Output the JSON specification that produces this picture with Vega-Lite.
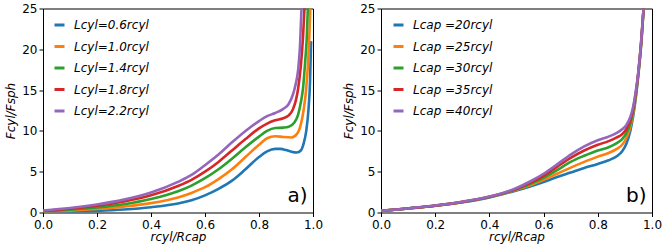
{
  "$schema": "https://vega.github.io/schema/vega-lite/v6.json",
  "background": "white",
  "padding": {"left": 4, "top": 1.5, "right": 12, "bottom": 2},
  "spacing": 18,
  "datasets": {
    "a": [
      {"s":"Lcyl=0.6rcyl","x":0,"F":0.05},{"s":"Lcyl=0.6rcyl","x":0.1,"F":0.1},{"s":"Lcyl=0.6rcyl","x":0.2,"F":0.2},{"s":"Lcyl=0.6rcyl","x":0.3,"F":0.37},{"s":"Lcyl=0.6rcyl","x":0.4,"F":0.65},{"s":"Lcyl=0.6rcyl","x":0.5,"F":1.1},{"s":"Lcyl=0.6rcyl","x":0.55,"F":1.5},{"s":"Lcyl=0.6rcyl","x":0.6,"F":2.1},{"s":"Lcyl=0.6rcyl","x":0.65,"F":2.9},{"s":"Lcyl=0.6rcyl","x":0.7,"F":3.9},{"s":"Lcyl=0.6rcyl","x":0.75,"F":5.3},{"s":"Lcyl=0.6rcyl","x":0.8,"F":6.8},{"s":"Lcyl=0.6rcyl","x":0.83,"F":7.5},{"s":"Lcyl=0.6rcyl","x":0.86,"F":7.8},{"s":"Lcyl=0.6rcyl","x":0.88,"F":7.8},{"s":"Lcyl=0.6rcyl","x":0.9,"F":7.65},{"s":"Lcyl=0.6rcyl","x":0.92,"F":7.45},{"s":"Lcyl=0.6rcyl","x":0.94,"F":7.35},{"s":"Lcyl=0.6rcyl","x":0.955,"F":7.6},{"s":"Lcyl=0.6rcyl","x":0.965,"F":8.4},{"s":"Lcyl=0.6rcyl","x":0.975,"F":10},{"s":"Lcyl=0.6rcyl","x":0.983,"F":12.5},{"s":"Lcyl=0.6rcyl","x":0.989,"F":16},{"s":"Lcyl=0.6rcyl","x":0.993,"F":21},
      {"s":"Lcyl=1.0rcyl","x":0,"F":0.1},{"s":"Lcyl=1.0rcyl","x":0.1,"F":0.22},{"s":"Lcyl=1.0rcyl","x":0.2,"F":0.42},{"s":"Lcyl=1.0rcyl","x":0.3,"F":0.72},{"s":"Lcyl=1.0rcyl","x":0.4,"F":1.15},{"s":"Lcyl=1.0rcyl","x":0.5,"F":1.85},{"s":"Lcyl=1.0rcyl","x":0.55,"F":2.4},{"s":"Lcyl=1.0rcyl","x":0.6,"F":3.1},{"s":"Lcyl=1.0rcyl","x":0.65,"F":4.1},{"s":"Lcyl=1.0rcyl","x":0.7,"F":5.3},{"s":"Lcyl=1.0rcyl","x":0.75,"F":6.8},{"s":"Lcyl=1.0rcyl","x":0.8,"F":8.3},{"s":"Lcyl=1.0rcyl","x":0.83,"F":9.1},{"s":"Lcyl=1.0rcyl","x":0.86,"F":9.35},{"s":"Lcyl=1.0rcyl","x":0.89,"F":9.25},{"s":"Lcyl=1.0rcyl","x":0.92,"F":9.2},{"s":"Lcyl=1.0rcyl","x":0.94,"F":9.6},{"s":"Lcyl=1.0rcyl","x":0.955,"F":10.8},{"s":"Lcyl=1.0rcyl","x":0.965,"F":12.5},{"s":"Lcyl=1.0rcyl","x":0.975,"F":15.2},{"s":"Lcyl=1.0rcyl","x":0.982,"F":18.5},{"s":"Lcyl=1.0rcyl","x":0.987,"F":22},{"s":"Lcyl=1.0rcyl","x":0.991,"F":26},
      {"s":"Lcyl=1.4rcyl","x":0,"F":0.15},{"s":"Lcyl=1.4rcyl","x":0.1,"F":0.35},{"s":"Lcyl=1.4rcyl","x":0.2,"F":0.62},{"s":"Lcyl=1.4rcyl","x":0.3,"F":1.02},{"s":"Lcyl=1.4rcyl","x":0.4,"F":1.65},{"s":"Lcyl=1.4rcyl","x":0.5,"F":2.6},{"s":"Lcyl=1.4rcyl","x":0.55,"F":3.3},{"s":"Lcyl=1.4rcyl","x":0.6,"F":4.2},{"s":"Lcyl=1.4rcyl","x":0.65,"F":5.3},{"s":"Lcyl=1.4rcyl","x":0.7,"F":6.6},{"s":"Lcyl=1.4rcyl","x":0.75,"F":8.0},{"s":"Lcyl=1.4rcyl","x":0.8,"F":9.3},{"s":"Lcyl=1.4rcyl","x":0.83,"F":10.0},{"s":"Lcyl=1.4rcyl","x":0.86,"F":10.35},{"s":"Lcyl=1.4rcyl","x":0.89,"F":10.4},{"s":"Lcyl=1.4rcyl","x":0.91,"F":10.5},{"s":"Lcyl=1.4rcyl","x":0.93,"F":11.0},{"s":"Lcyl=1.4rcyl","x":0.945,"F":12.0},{"s":"Lcyl=1.4rcyl","x":0.955,"F":13.5},{"s":"Lcyl=1.4rcyl","x":0.963,"F":15.2},{"s":"Lcyl=1.4rcyl","x":0.971,"F":18.5},{"s":"Lcyl=1.4rcyl","x":0.977,"F":21.5},{"s":"Lcyl=1.4rcyl","x":0.982,"F":26},
      {"s":"Lcyl=1.8rcyl","x":0,"F":0.2},{"s":"Lcyl=1.8rcyl","x":0.1,"F":0.45},{"s":"Lcyl=1.8rcyl","x":0.2,"F":0.82},{"s":"Lcyl=1.8rcyl","x":0.3,"F":1.35},{"s":"Lcyl=1.8rcyl","x":0.4,"F":2.1},{"s":"Lcyl=1.8rcyl","x":0.5,"F":3.25},{"s":"Lcyl=1.8rcyl","x":0.55,"F":4.0},{"s":"Lcyl=1.8rcyl","x":0.6,"F":5.0},{"s":"Lcyl=1.8rcyl","x":0.65,"F":6.2},{"s":"Lcyl=1.8rcyl","x":0.7,"F":7.6},{"s":"Lcyl=1.8rcyl","x":0.75,"F":9.0},{"s":"Lcyl=1.8rcyl","x":0.8,"F":10.3},{"s":"Lcyl=1.8rcyl","x":0.83,"F":10.9},{"s":"Lcyl=1.8rcyl","x":0.86,"F":11.3},{"s":"Lcyl=1.8rcyl","x":0.89,"F":11.55},{"s":"Lcyl=1.8rcyl","x":0.91,"F":11.9},{"s":"Lcyl=1.8rcyl","x":0.925,"F":12.6},{"s":"Lcyl=1.8rcyl","x":0.937,"F":13.8},{"s":"Lcyl=1.8rcyl","x":0.945,"F":15.2},{"s":"Lcyl=1.8rcyl","x":0.955,"F":18},{"s":"Lcyl=1.8rcyl","x":0.963,"F":21.5},{"s":"Lcyl=1.8rcyl","x":0.97,"F":26},
      {"s":"Lcyl=2.2rcyl","x":0,"F":0.25},{"s":"Lcyl=2.2rcyl","x":0.1,"F":0.55},{"s":"Lcyl=2.2rcyl","x":0.2,"F":0.98},{"s":"Lcyl=2.2rcyl","x":0.3,"F":1.58},{"s":"Lcyl=2.2rcyl","x":0.4,"F":2.45},{"s":"Lcyl=2.2rcyl","x":0.5,"F":3.75},{"s":"Lcyl=2.2rcyl","x":0.55,"F":4.6},{"s":"Lcyl=2.2rcyl","x":0.6,"F":5.8},{"s":"Lcyl=2.2rcyl","x":0.65,"F":7.1},{"s":"Lcyl=2.2rcyl","x":0.7,"F":8.6},{"s":"Lcyl=2.2rcyl","x":0.75,"F":10.0},{"s":"Lcyl=2.2rcyl","x":0.8,"F":11.2},{"s":"Lcyl=2.2rcyl","x":0.83,"F":11.8},{"s":"Lcyl=2.2rcyl","x":0.86,"F":12.2},{"s":"Lcyl=2.2rcyl","x":0.89,"F":12.7},{"s":"Lcyl=2.2rcyl","x":0.91,"F":13.3},{"s":"Lcyl=2.2rcyl","x":0.925,"F":14.4},{"s":"Lcyl=2.2rcyl","x":0.935,"F":15.6},{"s":"Lcyl=2.2rcyl","x":0.945,"F":17.5},{"s":"Lcyl=2.2rcyl","x":0.952,"F":20.5},{"s":"Lcyl=2.2rcyl","x":0.958,"F":25.5}
    ],
    "b": [
      {"s":"Lcap =20rcyl","x":0,"F":0.2},{"s":"Lcap =20rcyl","x":0.1,"F":0.5},{"s":"Lcap =20rcyl","x":0.2,"F":0.82},{"s":"Lcap =20rcyl","x":0.3,"F":1.25},{"s":"Lcap =20rcyl","x":0.4,"F":1.85},{"s":"Lcap =20rcyl","x":0.5,"F":2.7},{"s":"Lcap =20rcyl","x":0.55,"F":3.2},{"s":"Lcap =20rcyl","x":0.6,"F":3.75},{"s":"Lcap =20rcyl","x":0.65,"F":4.35},{"s":"Lcap =20rcyl","x":0.7,"F":4.9},{"s":"Lcap =20rcyl","x":0.75,"F":5.45},{"s":"Lcap =20rcyl","x":0.8,"F":5.95},{"s":"Lcap =20rcyl","x":0.84,"F":6.4},{"s":"Lcap =20rcyl","x":0.87,"F":6.9},{"s":"Lcap =20rcyl","x":0.89,"F":7.5},{"s":"Lcap =20rcyl","x":0.905,"F":8.4},{"s":"Lcap =20rcyl","x":0.92,"F":10.0},{"s":"Lcap =20rcyl","x":0.93,"F":11.7},{"s":"Lcap =20rcyl","x":0.94,"F":14.0},{"s":"Lcap =20rcyl","x":0.95,"F":17.0},{"s":"Lcap =20rcyl","x":0.96,"F":20.5},{"s":"Lcap =20rcyl","x":0.97,"F":25.5},
      {"s":"Lcap =25rcyl","x":0,"F":0.2},{"s":"Lcap =25rcyl","x":0.1,"F":0.5},{"s":"Lcap =25rcyl","x":0.2,"F":0.82},{"s":"Lcap =25rcyl","x":0.3,"F":1.27},{"s":"Lcap =25rcyl","x":0.4,"F":1.9},{"s":"Lcap =25rcyl","x":0.5,"F":2.8},{"s":"Lcap =25rcyl","x":0.55,"F":3.35},{"s":"Lcap =25rcyl","x":0.6,"F":4.0},{"s":"Lcap =25rcyl","x":0.65,"F":4.75},{"s":"Lcap =25rcyl","x":0.7,"F":5.5},{"s":"Lcap =25rcyl","x":0.75,"F":6.2},{"s":"Lcap =25rcyl","x":0.8,"F":6.85},{"s":"Lcap =25rcyl","x":0.84,"F":7.3},{"s":"Lcap =25rcyl","x":0.87,"F":7.8},{"s":"Lcap =25rcyl","x":0.89,"F":8.3},{"s":"Lcap =25rcyl","x":0.905,"F":9.1},{"s":"Lcap =25rcyl","x":0.92,"F":10.5},{"s":"Lcap =25rcyl","x":0.93,"F":12.0},{"s":"Lcap =25rcyl","x":0.94,"F":14.2},{"s":"Lcap =25rcyl","x":0.95,"F":17.1},{"s":"Lcap =25rcyl","x":0.96,"F":20.6},{"s":"Lcap =25rcyl","x":0.97,"F":25.5},
      {"s":"Lcap =30rcyl","x":0,"F":0.2},{"s":"Lcap =30rcyl","x":0.1,"F":0.5},{"s":"Lcap =30rcyl","x":0.2,"F":0.83},{"s":"Lcap =30rcyl","x":0.3,"F":1.28},{"s":"Lcap =30rcyl","x":0.4,"F":1.9},{"s":"Lcap =30rcyl","x":0.5,"F":2.85},{"s":"Lcap =30rcyl","x":0.55,"F":3.5},{"s":"Lcap =30rcyl","x":0.6,"F":4.25},{"s":"Lcap =30rcyl","x":0.65,"F":5.2},{"s":"Lcap =30rcyl","x":0.7,"F":6.2},{"s":"Lcap =30rcyl","x":0.75,"F":6.95},{"s":"Lcap =30rcyl","x":0.8,"F":7.6},{"s":"Lcap =30rcyl","x":0.84,"F":8.0},{"s":"Lcap =30rcyl","x":0.87,"F":8.5},{"s":"Lcap =30rcyl","x":0.89,"F":9.0},{"s":"Lcap =30rcyl","x":0.905,"F":9.7},{"s":"Lcap =30rcyl","x":0.92,"F":10.9},{"s":"Lcap =30rcyl","x":0.93,"F":12.3},{"s":"Lcap =30rcyl","x":0.94,"F":14.4},{"s":"Lcap =30rcyl","x":0.95,"F":17.2},{"s":"Lcap =30rcyl","x":0.96,"F":20.8},{"s":"Lcap =30rcyl","x":0.97,"F":25.5},
      {"s":"Lcap =35rcyl","x":0,"F":0.2},{"s":"Lcap =35rcyl","x":0.1,"F":0.5},{"s":"Lcap =35rcyl","x":0.2,"F":0.84},{"s":"Lcap =35rcyl","x":0.3,"F":1.3},{"s":"Lcap =35rcyl","x":0.4,"F":1.92},{"s":"Lcap =35rcyl","x":0.5,"F":2.9},{"s":"Lcap =35rcyl","x":0.55,"F":3.65},{"s":"Lcap =35rcyl","x":0.6,"F":4.5},{"s":"Lcap =35rcyl","x":0.65,"F":5.6},{"s":"Lcap =35rcyl","x":0.7,"F":6.7},{"s":"Lcap =35rcyl","x":0.75,"F":7.6},{"s":"Lcap =35rcyl","x":0.8,"F":8.3},{"s":"Lcap =35rcyl","x":0.84,"F":8.75},{"s":"Lcap =35rcyl","x":0.87,"F":9.2},{"s":"Lcap =35rcyl","x":0.89,"F":9.6},{"s":"Lcap =35rcyl","x":0.905,"F":10.2},{"s":"Lcap =35rcyl","x":0.92,"F":11.3},{"s":"Lcap =35rcyl","x":0.93,"F":12.6},{"s":"Lcap =35rcyl","x":0.94,"F":14.6},{"s":"Lcap =35rcyl","x":0.95,"F":17.3},{"s":"Lcap =35rcyl","x":0.96,"F":20.9},{"s":"Lcap =35rcyl","x":0.97,"F":25.5},
      {"s":"Lcap =40rcyl","x":0,"F":0.2},{"s":"Lcap =40rcyl","x":0.1,"F":0.5},{"s":"Lcap =40rcyl","x":0.2,"F":0.85},{"s":"Lcap =40rcyl","x":0.3,"F":1.32},{"s":"Lcap =40rcyl","x":0.4,"F":1.95},{"s":"Lcap =40rcyl","x":0.5,"F":3.0},{"s":"Lcap =40rcyl","x":0.55,"F":3.8},{"s":"Lcap =40rcyl","x":0.6,"F":4.75},{"s":"Lcap =40rcyl","x":0.65,"F":5.9},{"s":"Lcap =40rcyl","x":0.7,"F":7.1},{"s":"Lcap =40rcyl","x":0.75,"F":8.1},{"s":"Lcap =40rcyl","x":0.8,"F":8.85},{"s":"Lcap =40rcyl","x":0.84,"F":9.3},{"s":"Lcap =40rcyl","x":0.87,"F":9.75},{"s":"Lcap =40rcyl","x":0.89,"F":10.2},{"s":"Lcap =40rcyl","x":0.905,"F":10.7},{"s":"Lcap =40rcyl","x":0.92,"F":11.7},{"s":"Lcap =40rcyl","x":0.93,"F":12.9},{"s":"Lcap =40rcyl","x":0.94,"F":14.8},{"s":"Lcap =40rcyl","x":0.95,"F":17.4},{"s":"Lcap =40rcyl","x":0.96,"F":21},{"s":"Lcap =40rcyl","x":0.97,"F":25.5}
    ]
  },
  "hconcat": [
    {
      "width": 270,
      "height": 204,
      "layer": [
        {
          "data": {"name": "a"},
          "mark": {"type": "line", "strokeWidth": 2.6, "clip": true, "interpolate": "monotone"},
          "encoding": {
            "x": {"field": "x", "type": "quantitative", "scale": {"domain": [0, 1], "nice": false}, "axis": {"title": "rcyl/Rcap", "values": [0, 0.2, 0.4, 0.6, 0.8, 1.0], "format": ".1f"}},
            "y": {"field": "F", "type": "quantitative", "scale": {"domain": [0, 25], "nice": false}, "axis": {"title": "Fcyl/Fsph", "values": [0, 5, 10, 15, 20, 25]}},
            "color": {"field": "s", "type": "nominal", "scale": {"domain": ["Lcyl=0.6rcyl","Lcyl=1.0rcyl","Lcyl=1.4rcyl","Lcyl=1.8rcyl","Lcyl=2.2rcyl"], "range": ["#1f77b4","#ff7f0e","#2ca02c","#d62728","#9467bd"]}, "legend": {"title": null, "orient": "none", "legendX": 10, "legendY": 10}}
          }
        },
        {
          "data": {"values": [{"t": "a)"}]},
          "mark": {"type": "text", "align": "right", "baseline": "alphabetic", "fontSize": 20, "font": "DejaVu Sans", "color": "black"},
          "encoding": {"text": {"field": "t"}, "x": {"datum": 0.98}, "y": {"datum": 1.3}}
        }
      ]
    },
    {
      "width": 271,
      "height": 204,
      "layer": [
        {
          "data": {"name": "b"},
          "mark": {"type": "line", "strokeWidth": 2.6, "clip": true, "interpolate": "monotone"},
          "encoding": {
            "x": {"field": "x", "type": "quantitative", "scale": {"domain": [0, 1], "nice": false}, "axis": {"title": "rcyl/Rcap", "values": [0, 0.2, 0.4, 0.6, 0.8, 1.0], "format": ".1f"}},
            "y": {"field": "F", "type": "quantitative", "scale": {"domain": [0, 25], "nice": false}, "axis": {"title": "Fcyl/Fsph", "values": [0, 5, 10, 15, 20, 25]}},
            "color": {"field": "s", "type": "nominal", "scale": {"domain": ["Lcap =20rcyl","Lcap =25rcyl","Lcap =30rcyl","Lcap =35rcyl","Lcap =40rcyl"], "range": ["#1f77b4","#ff7f0e","#2ca02c","#d62728","#9467bd"]}, "legend": {"title": null, "orient": "none", "legendX": 11, "legendY": 10}}
          }
        },
        {
          "data": {"values": [{"t": "b)"}]},
          "mark": {"type": "text", "align": "right", "baseline": "alphabetic", "fontSize": 20, "font": "DejaVu Sans", "color": "black"},
          "encoding": {"text": {"field": "t"}, "x": {"datum": 0.98}, "y": {"datum": 1.3}}
        }
      ]
    }
  ],
  "resolve": {"scale": {"color": "independent"}, "legend": {"color": "independent"}},
  "config": {
    "font": "DejaVu Sans",
    "view": {"stroke": "black", "strokeWidth": 1},
    "axis": {
      "grid": false, "domain": false, "tickColor": "black", "tickSize": 4, "tickWidth": 1,
      "labelFont": "DejaVu Sans", "labelFontSize": 12, "labelColor": "black",
      "titleFont": "DejaVu Sans", "titleFontSize": 12, "titleFontWeight": "normal", "titleFontStyle": "italic", "titleColor": "black"
    },
    "axisX": {"titlePadding": 1, "labelPadding": 3, "labelFlush": false},
    "axisY": {"titlePadding": 4, "labelPadding": 2, "labelFlush": false},
    "legend": {
      "symbolType": "stroke", "symbolSize": 100, "symbolStrokeWidth": 3, "labelFont": "DejaVu Sans", "labelFontSize": 12, "labelFontStyle": "italic",
      "labelColor": "black", "labelOffset": 8, "rowPadding": 8.5, "symbolOpacity": 1
    }
  }
}
